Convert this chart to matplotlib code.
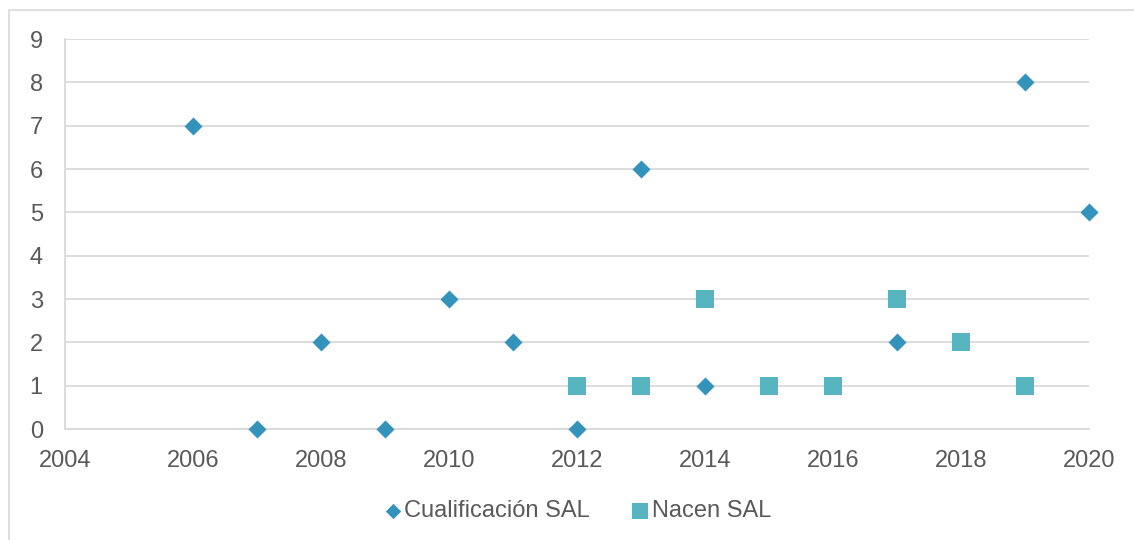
import matplotlib
matplotlib.use("Agg")
import matplotlib.pyplot as plt
from matplotlib.patches import Rectangle

plt.rcParams['font.family'] = ['Liberation Sans', 'DejaVu Sans']

cual_years = [2006, 2007, 2008, 2009, 2010, 2011, 2012, 2013, 2014, 2017, 2019, 2020]
cual_vals = [7, 0, 2, 0, 3, 2, 0, 6, 1, 2, 8, 5]
nacen_years = [2012, 2013, 2014, 2015, 2016, 2017, 2018, 2019]
nacen_vals = [1, 1, 3, 1, 1, 3, 2, 1]
x_ticks = list(range(2004, 2021, 2))
y_ticks = list(range(0, 10))

text_col = '#595959'
grid_col = '#D9D9D9'

fig = plt.figure(figsize=(11.34, 5.4), dpi=100)
fig.patches.append(Rectangle((9/1134, -0.1), 1.2, 1 - 10/540 + 0.1, transform=fig.transFigure,
                             fill=False, edgecolor='#D9D9D9', linewidth=1.2))
ax = fig.add_axes([65/1134, 1 - 429/540, (1089 - 65)/1134, (429 - 39)/540])

ax.scatter(cual_years, cual_vals, marker='D', s=9.2**2, color='#3393BB', linewidths=0,
           label='Cualificación SAL', zorder=3, clip_on=False)
ax.scatter(nacen_years, nacen_vals, marker='s', s=13**2, color='#56B5C0', linewidths=0,
           label='Nacen SAL', zorder=3, clip_on=False)

ax.set_xlim(2004, 2020)
ax.set_ylim(0, 9)
ax.set_xticks(x_ticks)
ax.set_xticklabels([str(t) for t in x_ticks])
ax.set_yticks(y_ticks)
ax.grid(axis='y', color=grid_col, linewidth=1.3)
ax.set_axisbelow(True)
for s in ['top', 'right']:
    ax.spines[s].set_visible(False)
ax.spines['left'].set_color(grid_col)
ax.spines['left'].set_linewidth(1.3)
ax.spines['bottom'].set_color(grid_col)
ax.spines['bottom'].set_linewidth(1.3)
ax.tick_params(axis='both', length=0, labelsize=17, labelcolor=text_col)
ax.tick_params(axis='x', pad=15)
ax.tick_params(axis='y', pad=16)

leg = fig.legend(loc='center', bbox_to_anchor=(577/1134, 1 - 511/540), ncol=2, frameon=False,
                 fontsize=17, labelcolor=text_col, handletextpad=0.1, columnspacing=1.7,
                 handlelength=0.8, markerscale=0.85)

fig.savefig('out.png', dpi=100)
